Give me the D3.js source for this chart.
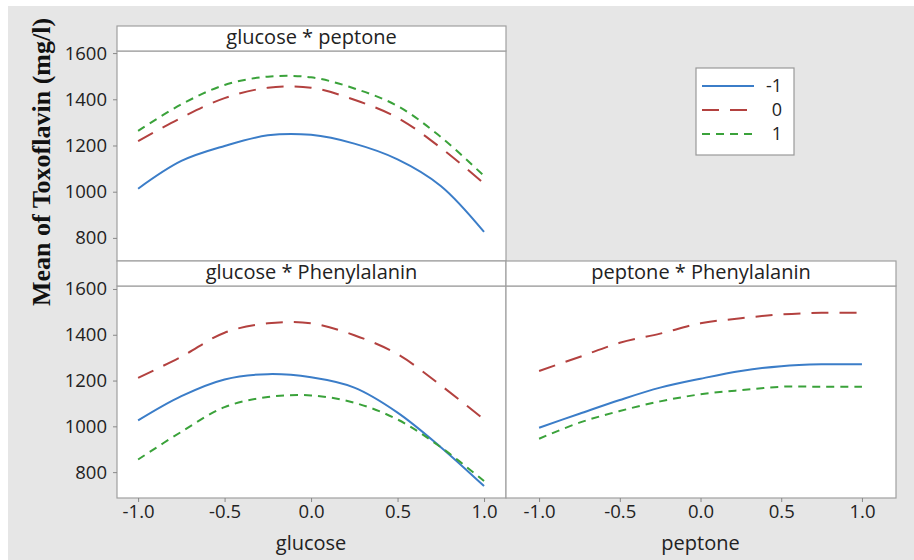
<!DOCTYPE html>
<html>
<head>
<meta charset="utf-8">
<script src="https://d3js.org/d3.v7.min.js"></script>
<style>
  body { margin: 0; background: #fff; }
  text { font-family: "Open Sans", "Noto Sans", sans-serif; fill: #222; }
</style>
</head>
<body>
<svg width="914" height="560"></svg>
<script>
// factor levels shown in the legend
var levels = ["-1", "0", "1"];
var xs = [-1, -0.75, -0.5, -0.25, 0, 0.25, 0.5, 0.75, 1];
var xTicks = [-1, -0.5, 0, 0.5, 1];
var yTicks = [800, 1000, 1200, 1400, 1600];

// glucose * peptone  (x = glucose, lines = peptone level)
var gpLow = [1013, 1133, 1198, 1244, 1246, 1208, 1140, 1025, 826];
var gpMid = [1219, 1320, 1405, 1450, 1450, 1398, 1320, 1190, 1035];
var gpHigh = [1263, 1378, 1462, 1498, 1495, 1447, 1371, 1237, 1068];

// glucose * Phenylalanin  (x = glucose, lines = Phenylalanin level)
var gfLow = [1026, 1132, 1205, 1228, 1214, 1169, 1060, 909, 739];
var gfMid = [1212, 1304, 1409, 1450, 1450, 1398, 1315, 1179, 1030];
var gfHigh = [855, 976, 1084, 1128, 1135, 1103, 1030, 909, 761];

// peptone * Phenylalanin  (x = peptone, lines = Phenylalanin level)
var pfLow = [994, 1055, 1115, 1169, 1208, 1242, 1263, 1271, 1271];
var pfMid = [1242, 1303, 1365, 1405, 1450, 1472, 1489, 1496, 1496];
var pfHigh = [946, 1016, 1067, 1109, 1140, 1158, 1173, 1173, 1173];

var colors = ["#3b7dc8", "#b3413f", "#3aa23a"];
var dashes = [null, "17,11", "8,6"];
var frameColor = "#a0a0a0";

var svg = d3.select("svg");

svg
  .append("rect")
  .attr("x", 8)
  .attr("y", 6)
  .attr("width", 906)
  .attr("height", 554)
  .style("fill", "#e6e6e6");

var xG = d3.scaleLinear().domain([-1.122, 1.127]).range([117, 506]);
var xP = d3.scaleLinear().domain([-1.205, 1.211]).range([506, 896]);
var yTop = d3.scaleLinear().domain([700, 1609]).range([261, 51]);
var yBot = d3.scaleLinear().domain([687, 1613]).range([498, 286]);

var panels = [
  { title: "glucose * peptone", x: xG, y: yTop, head: 26, series: [gpLow, gpMid, gpHigh], yAxis: true, xAxis: false },
  { title: "glucose * Phenylalanin", x: xG, y: yBot, head: 261, series: [gfLow, gfMid, gfHigh], yAxis: true, xAxis: true, xLabel: "glucose" },
  { title: "peptone * Phenylalanin", x: xP, y: yBot, head: 261, series: [pfLow, pfMid, pfHigh], yAxis: false, xAxis: true, xLabel: "peptone" }
];

function drawPanel(p) {
  var x0 = p.x.range()[0],
    x1 = p.x.range()[1],
    yb = p.y.range()[0],
    yt = p.y.range()[1];

  // plot area + header strip
  svg
    .append("rect")
    .attr("x", x0)
    .attr("y", yt)
    .attr("width", x1 - x0)
    .attr("height", yb - yt)
    .style("fill", "#fff")
    .style("stroke", frameColor)
    .style("stroke-width", 1.2);

  svg
    .append("rect")
    .attr("x", x0)
    .attr("y", p.head)
    .attr("width", x1 - x0)
    .attr("height", yt - p.head)
    .style("fill", "#fff")
    .style("stroke", frameColor)
    .style("stroke-width", 1.2);

  svg
    .append("text")
    .attr("x", (x0 + x1) / 2)
    .attr("y", p.head + 17.5)
    .attr("text-anchor", "middle")
    .style("font-size", "20px")
    .text(p.title);

  var line = d3
    .line()
    .x(function (d, i) {
      return p.x(xs[i]);
    })
    .y(function (d) {
      return p.y(d);
    })
    .curve(d3.curveCatmullRom.alpha(0.5));

  svg
    .append("g")
    .selectAll("path")
    .data(p.series)
    .enter()
    .append("path")
    .attr("d", line)
    .style("fill", "none")
    .style("stroke", function (d, i) {
      return colors[i];
    })
    .style("stroke-dasharray", function (d, i) {
      return dashes[i];
    })
    .style("stroke-width", 2);

  if (p.yAxis) {
    var ya = svg
      .append("g")
      .attr("transform", "translate(" + x0 + ",0)")
      .call(
        d3
          .axisLeft(p.y)
          .tickValues(yTicks)
          .tickSize(4)
          .tickPadding(6)
          .tickFormat(d3.format("d"))
      );
    styleAxis(ya);
  }

  if (p.xAxis) {
    var xa = svg
      .append("g")
      .attr("transform", "translate(0," + yb + ")")
      .call(
        d3
          .axisBottom(p.x)
          .tickValues(xTicks)
          .tickSize(4)
          .tickPadding(3)
          .tickFormat(function (d) {
            return d.toFixed(1);
          })
      );
    styleAxis(xa);

    svg
      .append("text")
      .attr("x", p.x(0))
      .attr("y", 550)
      .attr("text-anchor", "middle")
      .style("font-size", "20px")
      .text(p.xLabel);
  }
}

function styleAxis(g) {
  g.select(".domain").remove();
  g.selectAll(".tick line").style("stroke", "#888");
  g.selectAll(".tick text")
    .style("font-size", "18.5px")
    .style("font-family", '"Open Sans", "Noto Sans", sans-serif')
    .style("fill", "#222");
}

panels.forEach(drawPanel);

// y axis title
svg
  .append("text")
  .attr("transform", "translate(50,162) rotate(-90)")
  .attr("text-anchor", "middle")
  .style("font-family", '"Liberation Serif", "Times New Roman", serif')
  .style("font-weight", "bold")
  .style("font-size", "26px")
  .style("fill", "#111")
  .text("Mean of Toxoflavin (mg/l)");

// legend
var legend = svg.append("g");

legend
  .append("rect")
  .attr("x", 696)
  .attr("y", 68)
  .attr("width", 98)
  .attr("height", 87)
  .style("fill", "#fff")
  .style("stroke", "#999")
  .style("stroke-width", 1.2);

var item = legend
  .selectAll("g.item")
  .data(levels)
  .enter()
  .append("g")
  .attr("class", "item")
  .attr("transform", function (d, i) {
    return "translate(0," + (86 + i * 24) + ")";
  });

item
  .append("line")
  .attr("x1", 702)
  .attr("x2", 754)
  .style("stroke", function (d, i) {
    return colors[i];
  })
  .style("stroke-dasharray", function (d, i) {
    return dashes[i];
  })
  .style("stroke-width", 2);

item
  .append("text")
  .attr("x", 782)
  .attr("dy", "0.35em")
  .attr("text-anchor", "end")
  .style("font-size", "18px")
  .text(function (d) {
    return d;
  });
</script>
</body>
</html>
